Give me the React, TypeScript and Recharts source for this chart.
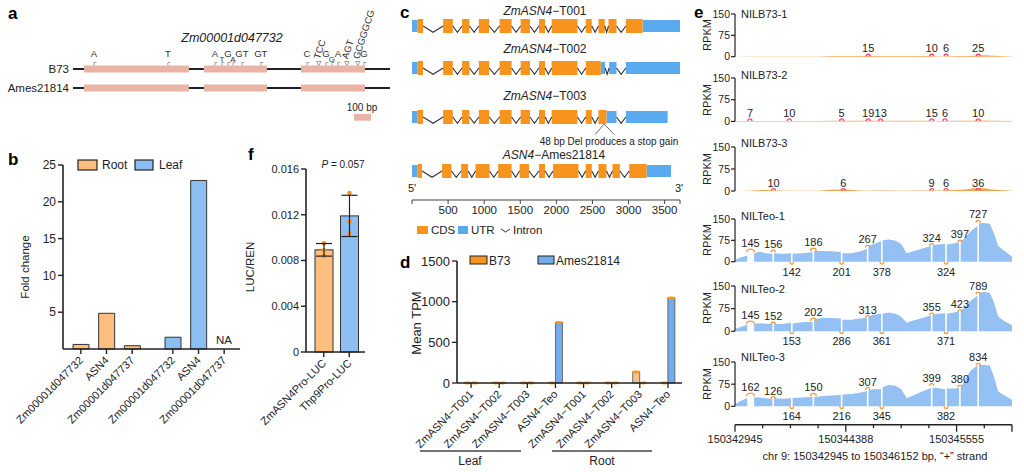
import React from "react";
import {
  BarChart,
  Bar,
  ComposedChart,
  XAxis,
  YAxis,
  Area,
  Line,
  Scatter,
  ReferenceArea,
  ReferenceLine,
  ErrorBar,
} from "recharts";

const FONT = "Arial, 'Liberation Sans', Helvetica, sans-serif";
const INK = "#222";

// ---------- panel a: gene model of Zm00001d047732 (bp)
const aRows = ["Ames21814", "B73"];
const aGeneLen = 1865;
const aExons = [[65, 682], [770, 1141], [1341, 1718]];
const aScaleBar = [1653, 1753];
const aSnpPos = [123, 558, 835, 876, 911, 941, 994, 1105, 1376, 1446, 1488, 1523, 1558, 1611, 1676, 1711];
const aSnpAllele = ["A", "T", "A", "T", "G", "A", "GT", "GT", "C", "TCC", "G", "G", "A", "AGT", "GCGGGCG", "G"];

// ---------- panel b: qPCR fold change
const bGenes = ["Zm00001d047732", "ASN4", "Zm00001d047737"];
const rootFold = [0.62, 4.85, 0.45];
const leafFold = [1.6, 22.9, null];
const bTicks = [5, 10, 15, 20, 25];

// ---------- panel f: LUC/REN
const fConstructs = ["ZmASN4Pro-LUC", "Thp9Pro-LUC"];
const fReps = [
  [0.0095, 0.0089, 0.0084],
  [0.0139, 0.0114, 0.0104],
];
const fTicks = [0, 0.004, 0.008, 0.012, 0.016];

// ---------- panel c: transcript structures (bp)
const cLen = 3713;
const cTicks = [500, 1000, 1500, 2000, 2500, 3000, 3500];
const t001Cds = [[79, 153], [431, 565], [694, 796], [926, 1069], [1213, 1380], [1505, 1634], [1759, 1843], [1935, 2292], [2407, 2491], [2583, 2671], [2722, 2833], [2963, 3194]];
const t001Utr = [[0, 79], [3194, 3713]];
const t002Cds = [[79, 153], [431, 565], [694, 796], [926, 1069], [1213, 1380], [1505, 1634], [1759, 1843], [1935, 2292], [2407, 2616]];
const t002Utr = [[0, 79], [2616, 2676], [2731, 2833], [2963, 3713]];
const t003Cds = [[79, 153], [431, 565], [694, 796], [926, 1069], [1213, 1380], [1505, 1634], [1759, 1843], [1935, 2292], [2407, 2491], [2583, 2694]];
const t003Utr = [[0, 79], [2694, 2833], [2963, 3542]];
const amesCds = [[79, 139], [417, 546], [681, 778], [880, 1074], [1194, 1380], [1491, 1620], [1759, 1843], [1954, 2306], [2407, 2491], [2583, 2694], [2778, 2880], [3009, 3250]];
const amesUtr = [[0, 79], [3250, 3588]];

// ---------- panel d: mean TPM
const dCats = ["ZmASN4−T001", "ZmASN4−T002", "ZmASN4−T003", "ASN4−Teo", "ZmASN4−T001", "ZmASN4−T002", "ZmASN4−T003", "ASN4−Teo"];
const dB73 = [0, 0, 0, 0, 0, 0, 135, 0];
const dAmes = [0, 0, 0, 745, 0, 0, 0, 1045];
const dTicks = [0, 500, 1000, 1500];

// ---------- panel e: RNA-seq coverage (x in 1/100 of the locus)
const eTicks = [0, 10, 20, 30, 40, 50, 60, 70, 80, 90, 100];
const eTickBins = [0, 40, 80];
const eTickLabels = ["150342945", "150344388", "150345555"];
const teoX = [0, 2, 4.4, 6.9, 9, 11, 13.5, 14.1, 17, 20.2, 20.8, 24, 28.0, 28.6, 32, 35, 38.2, 38.8, 42, 45, 47.6, 48.2, 50, 52.7, 53.3, 55.5, 58, 60, 62, 64, 67, 70.7, 71.3, 73, 75.9, 76.5, 79, 80.9, 81.5, 83, 85, 87.5, 88.1, 90, 92, 93.5, 95, 97, 100];
const teoGaps = [[4.4, 6.9], [13.5, 14.1], [20.2, 20.8], [28.0, 28.6], [38.2, 38.8], [47.6, 48.2], [52.7, 53.3], [70.7, 71.3], [75.9, 76.5], [80.9, 81.5], [87.5, 88.1]];
const teo1 = [6, 15, 22, 30, 35, 30, 28, 30, 28, 30, 28, 30, 33, 38, 38, 37, 34, 30, 30, 36, 45, 55, 62, 72, 75, 78, 74, 62, 30, 36, 45, 55, 56, 60, 62, 60, 64, 68, 70, 85, 105, 125, 135, 136, 133, 100, 55, 40, 18];
const teo2 = [8, 14, 22, 25, 27, 25, 24, 25, 24, 28, 26, 30, 32, 40, 45, 44, 42, 38, 38, 42, 45, 50, 55, 58, 58, 62, 58, 48, 28, 35, 42, 52, 54, 58, 60, 58, 62, 66, 68, 80, 100, 118, 128, 130, 128, 95, 50, 35, 20];
const teo3 = [8, 18, 28, 30, 30, 27, 25, 27, 26, 27, 28, 30, 32, 32, 35, 37, 38, 40, 42, 46, 52, 55, 58, 58, 65, 72, 70, 58, 28, 35, 48, 62, 64, 62, 58, 60, 60, 62, 65, 90, 120, 138, 140, 140, 138, 100, 50, 38, 22];
const b73X = [0, 5, 10, 15, 20, 25, 30, 35, 40, 45, 48, 50, 55, 60, 65, 70, 75, 80, 84, 86, 88, 90, 92, 95, 100];
const b73a = [0, 1, 1, 1, 1, 1, 1, 2, 2, 2, 3, 2, 2, 2, 2, 2, 1, 2, 2, 3, 4, 5, 4, 2, 1];
const b73b = [1, 1, 1, 1, 1, 1, 1, 2, 2, 2, 3, 2, 2, 2, 2, 2, 1, 2, 2, 2, 3, 3, 2, 2, 1];
const b73c = [0, 1, 3, 2, 1, 1, 1, 4, 5, 2, 1, 2, 2, 1, 2, 2, 2, 3, 6, 9, 10, 9, 6, 3, 1];

// junction read counts
const teoUpPos = [5.6, 13.8, 28.3, 47.9, 71, 81.2, 87.8];
const teoUpSpan = [2.9, 1.5, 2.1, 1.5, 1.5, 1.5, 1.5];
const teoDownPos = [20.5, 38.5, 53, 76.2];
const teo1Up = [145, 156, 186, 267, 324, 397, 727];
const teo1UpY = [33, 33, 37, 50, 56, 68, 138];
const teo1Down = [142, 201, 378, 324];
const teo2Up = [145, 152, 202, 313, 355, 423, 789];
const teo2UpY = [23, 23, 34, 45, 53, 64, 123];
const teo2Down = [153, 286, 361, 371];
const teo3Up = [162, 126, 150, 307, 399, 380, 834];
const teo3UpY = [34, 26, 34, 56, 70, 64, 138];
const teo3Down = [164, 216, 345, 382];
const b73aPos = [48.1, 71, 76.2, 87.8];
const b73aJ = [15, 10, 6, 25];
const b73bPos = [5.4, 19.6, 38.5, 48.1, 52.6, 71, 75.8, 87.8];
const b73bJ = [7, 10, 5, 19, 13, 15, 6, 10];
const b73cPos = [13.9, 39.1, 71, 76.2, 87.8];
const b73cJ = [10, 6, 9, 6, 36];

const C = {
  rootFill: "#FDBE80",
  leafFill: "#8DBEF2",
  orange: "#F7931E",
  cds: "#F7941D",
  utr: "#5AAAF0",
  exonA: "#E9B3A6",
  dB73: "#FAC08A",
  dAmes: "#74ABEB",
  covB73: "#F6A24E",
  covTeo: "#94C0F4",
  arcB73: "#E8467C",
  arcTeo: "#F39A3C",
};

const abs = (left: number, top: number): React.CSSProperties => ({ position: "absolute", left, top });

const RotTick = (props: any) => {
  const { x, y, payload, fs = 11 } = props;
  const ax = x + 3;
  const ay = y + 5;
  return (
    <text x={ax} y={ay} transform={`rotate(-45 ${ax} ${ay})`} textAnchor="end" fontSize={fs} fill={INK}>
      {payload.value}
    </text>
  );
};

// ---------------- panel a
const SnpMark = (p: any) => {
  const { cx, cy, payload } = p;
  const top = cy - 3.5;
  if (payload.allele.length >= 3) {
    return (
      <g>
        <path d={`M${cx - 2.2},${top - 4} L${cx + 2.2},${top - 4} L${cx},${top} Z`} fill="#fff" stroke="#777" strokeWidth={0.7} />
        <text x={cx + 1} y={top - 6} transform={`rotate(-72 ${cx + 1} ${top - 6})`} fontSize={9.5} fill="#333">
          {payload.allele}
        </text>
      </g>
    );
  }
  const ty = payload.tier ? top - 3.5 : top - 9;
  return (
    <g>
      <path d={`M${cx},${top} V${top - 3} H${cx + 2.5}`} fill="none" stroke="#777" strokeWidth={0.7} />
      <text x={cx} y={ty} textAnchor="middle" fontSize={payload.tier ? 8 : 9.5} fill="#333">
        {payload.allele}
      </text>
    </g>
  );
};

function PanelA() {
  const snp: any[] = aSnpPos.map((x, i) => ({ x, y: 1, allele: aSnpAllele[i], tier: 0 }));
  for (let i = 1; i < snp.length; i++) {
    const close = snp[i].x - snp[i - 1].x < 45 && snp[i].allele.length < 3 && snp[i - 1].allele.length < 3;
    snp[i].tier = close ? 1 - snp[i - 1].tier : 0;
  }
  const segs: number[][] = [];
  let prev = 0;
  aExons.forEach(([s, e]) => {
    segs.push([prev, s]);
    prev = e;
  });
  segs.push([prev, aGeneLen]);
  return (
    <div style={abs(0, 0)}>
      <ComposedChart width={400} height={130} data={snp} margin={{ top: 69, right: 10, bottom: 42, left: 0 }}>
        <XAxis type="number" dataKey="x" domain={[0, aGeneLen]} hide />
        <YAxis
          type="number"
          domain={[0, 1]}
          ticks={[0, 1]}
          interval={0}
          width={73}
          axisLine={false}
          tickLine={false}
          tickSize={4}
          tickMargin={0}
          tickFormatter={(v: number) => aRows[v]}
          tick={{ fontSize: 11.5, fill: INK }}
        />
        {[0, 1].flatMap((r) =>
          segs.map(([s, e], k) => (
            <ReferenceLine key={`l${r}${k}`} segment={[{ x: s, y: r }, { x: e, y: r }]} stroke={INK} strokeWidth={2} ifOverflow="visible" />
          ))
        )}
        {[0, 1].flatMap((r) =>
          aExons.map(([s, e], k) => (
            <ReferenceArea key={`e${r}${k}`} x1={s} x2={e} y1={r - 0.18} y2={r + 0.18} fill={C.exonA} fillOpacity={1} stroke="none" ifOverflow="visible" />
          ))
        )}
        <ReferenceArea x1={aScaleBar[0]} x2={aScaleBar[1]} y1={-1.72} y2={-1.36} fill={C.exonA} fillOpacity={1} stroke="none" ifOverflow="visible" />
        <Scatter dataKey="y" isAnimationActive={false} shape={SnpMark} />
      </ComposedChart>
    </div>
  );
}

// ---------------- panel b
function PanelB() {
  const rootData = bGenes.map((g, i) => ({ gene: g, v: rootFold[i] }));
  const leafData = bGenes.map((g, i) => ({ gene: g, v: leafFold[i] }));
  const xProps = {
    dataKey: "gene",
    interval: 0,
    height: 90,
    tick: <RotTick />,
    tickSize: 5,
    tickLine: { stroke: INK, strokeWidth: 1.4 },
    axisLine: { stroke: INK, strokeWidth: 1.6 },
  } as any;
  return (
    <>
      <div style={abs(0, 150)}>
        <BarChart width={152} height={289} data={rootData} margin={{ top: 15, right: 0, bottom: 0, left: 0 }}>
          <XAxis {...xProps} padding={{ left: 5, right: 7 }} />
          <YAxis
            width={63}
            domain={[0, 25]}
            ticks={bTicks}
            tick={{ fontSize: 12, fill: INK }}
            tickSize={5}
            tickLine={{ stroke: INK, strokeWidth: 1.4 }}
            axisLine={{ stroke: INK, strokeWidth: 1.6 }}
          />
          <Bar dataKey="v" fill={C.rootFill} stroke="#333" strokeWidth={1} barSize={16} isAnimationActive={false} />
        </BarChart>
      </div>
      <div style={abs(60, 150)}>
        <BarChart width={180} height={289} data={leafData} margin={{ top: 15, right: 0, bottom: 0, left: 92 }}>
          <XAxis {...xProps} padding={{ left: 8, right: 3 }} />
          <YAxis hide domain={[0, 25]} />
          <Bar dataKey="v" fill={C.leafFill} stroke="#333" strokeWidth={1} barSize={16} isAnimationActive={false} />
        </BarChart>
      </div>
    </>
  );
}

// ---------------- panel f
const FBar = (p: any) => {
  const { x, y, width, height, fill, payload } = p;
  const perUnit = height / payload.mean;
  const base = y + height;
  return (
    <g>
      <rect x={x} y={y} width={width} height={height} fill={fill} stroke="#333" strokeWidth={1} />
      {payload.reps.map((v: number, i: number) => (
        <circle key={i} cx={x + width / 2} cy={base - v * perUnit} r={2.3} fill={C.orange} />
      ))}
    </g>
  );
};

function PanelF() {
  const data = fConstructs.map((name, i) => {
    const r = fReps[i];
    const mean = r.reduce((a, b) => a + b, 0) / r.length;
    const sd = Math.sqrt(r.reduce((a, b) => a + (b - mean) ** 2, 0) / (r.length - 1));
    return { name, mean, sd, reps: r };
  });
  return (
    <div style={abs(240, 150)}>
      <BarChart width={125} height={292} data={data} margin={{ top: 19, right: 0, bottom: 0, left: 0 }}>
        <XAxis
          dataKey="name"
          interval={0}
          height={90}
          padding={{ left: 5, right: 3 }}
          tick={<RotTick />}
          tickSize={5}
          tickLine={{ stroke: INK, strokeWidth: 1.4 }}
          axisLine={{ stroke: INK, strokeWidth: 1.6 }}
        />
        <YAxis
          width={66}
          domain={[0, 0.016]}
          ticks={fTicks}
          tickFormatter={(v: number) => String(v)}
          tick={{ fontSize: 11, fill: INK }}
          tickSize={5}
          tickLine={{ stroke: INK, strokeWidth: 1.4 }}
          axisLine={{ stroke: INK, strokeWidth: 1.6 }}
        />
        <Bar dataKey="mean" barSize={18} isAnimationActive={false} shape={(p: any) => <FBar {...p} fill={p.index === 0 ? C.rootFill : C.leafFill} />}>
          <ErrorBar dataKey="sd" width={8} stroke={INK} strokeWidth={1.2} direction="y" />
        </Bar>
      </BarChart>
    </div>
  );
}

// ---------------- panel c
function CTrack({ center, cds, utr, axis, note }: any) {
  const blocks = [...cds, ...utr].sort((a: number[], b: number[]) => a[0] - b[0]);
  const intr: any[] = [];
  for (let i = 0; i < blocks.length - 1; i++) {
    const e = blocks[i][1];
    const s = blocks[i + 1][0];
    if (s - e > 5) intr.push({ x: e, y: 0 }, { x: (e + s) / 2, y: -0.45 }, { x: s, y: 0 }, { x: s + 1, y: null });
  }
  const mt = 13;
  const ph = axis ? 36 : 14;
  const mb = axis ? 0 : note ? 33 : 13;
  const xh = axis ? 24 : 0;
  return (
    <div style={abs(395, center - 7 - mt)}>
      <ComposedChart width={295} height={mt + ph + mb + xh} data={intr} margin={{ top: mt, right: 10, bottom: mb, left: 17 }}>
        <XAxis
          type="number"
          dataKey="x"
          domain={[0, cLen]}
          hide={!axis}
          ticks={[0, ...cTicks, cLen]}
          interval={0}
          tickFormatter={(v: number) => (cTicks.includes(v) ? String(v) : "")}
          tick={{ fontSize: 11.5, fill: INK }}
          tickSize={4}
          tickLine={{ stroke: "#444" }}
          axisLine={{ stroke: "#444", strokeWidth: 1.2 }}
          height={xh}
        />
        <YAxis type="number" domain={[axis ? -2.07 : -0.5, 0.5]} hide />
        <Line type="linear" dataKey="y" stroke="#333" strokeWidth={1.1} dot={false} connectNulls={false} isAnimationActive={false} />
        {utr.map(([s, e]: number[], k: number) => (
          <ReferenceArea key={`u${k}`} x1={s} x2={e} y1={-0.43} y2={0.43} fill={C.utr} fillOpacity={1} stroke="none" ifOverflow="visible" />
        ))}
        {cds.map(([s, e]: number[], k: number) => (
          <ReferenceArea key={`c${k}`} x1={s} x2={e} y1={-0.5} y2={0.5} fill={C.cds} fillOpacity={1} stroke="none" ifOverflow="visible" />
        ))}
        {note && (
          <ReferenceLine segment={[{ x: 2662, y: -0.5 }, { x: 2537, y: -1.25 }]} stroke="#555" strokeWidth={0.9} ifOverflow="visible" />
        )}
        {note && (
          <ReferenceLine segment={[{ x: 2662, y: -0.5 }, { x: 2801, y: -1.25 }]} stroke="#555" strokeWidth={0.9} ifOverflow="visible" />
        )}
      </ComposedChart>
    </div>
  );
}

function PanelC() {
  return (
    <>
      <CTrack center={26} cds={t001Cds} utr={t001Utr} />
      <CTrack center={68} cds={t002Cds} utr={t002Utr} />
      <CTrack center={117} cds={t003Cds} utr={t003Utr} note />
      <CTrack center={171} cds={amesCds} utr={amesUtr} axis />
    </>
  );
}

// ---------------- panel d
const DBar = (p: any) => {
  const { x, y, width, height, fill } = p;
  return (
    <g>
      {height > 0.5 && <rect x={x} y={y} width={width} height={height} fill={fill} stroke="#555" strokeWidth={0.8} />}
      <ellipse cx={x + width / 2} cy={y} rx={width / 2 + 0.4} ry={1.4} fill={C.orange} />
    </g>
  );
};

function PanelD() {
  const data = dCats.map((c, i) => ({ cat: c, key: `${c}${i}`, b73: dB73[i], ames: dAmes[i] }));
  return (
    <div style={abs(395, 250)}>
      <BarChart width={287} height={203} data={data} barGap={0} margin={{ top: 11, right: 0, bottom: 0, left: 0 }}>
        <XAxis
          dataKey="key"
          interval={0}
          height={70}
          tick={(p: any) => <RotTick {...p} payload={{ value: dCats[p.index] }} />}
          tickSize={5}
          tickLine={{ stroke: INK, strokeWidth: 1.3 }}
          axisLine={{ stroke: INK, strokeWidth: 1.6 }}
        />
        <YAxis
          width={62}
          domain={[0, 1500]}
          ticks={dTicks}
          tick={{ fontSize: 13, fill: INK }}
          tickSize={5}
          tickLine={{ stroke: INK, strokeWidth: 1.3 }}
          axisLine={{ stroke: INK, strokeWidth: 1.6 }}
        />
        <Bar dataKey="b73" fill={C.dB73} barSize={7} isAnimationActive={false} shape={DBar} />
        <Bar dataKey="ames" fill={C.dAmes} barSize={7} isAnimationActive={false} shape={DBar} />
      </BarChart>
    </div>
  );
}

// ---------------- panel e
const PXB = 2.77;

const ArcUp = (p: any) => {
  const { cx, cy, payload } = p;
  const w = Math.max(2, (payload.span * PXB) / 2);
  const h = Math.min(w, 3.2);
  return (
    <g>
      <path d={`M${cx - w},${cy} A${w},${h} 0 0 1 ${cx + w},${cy}`} fill="none" stroke={payload.color} strokeWidth={1.3} />
      <text x={cx} y={cy - h - 2} textAnchor="middle" fontSize={11} fill={INK}>
        {payload.label}
      </text>
    </g>
  );
};

const ArcDown = (p: any) => {
  const { cx, cy, payload } = p;
  const w = 1.8;
  return (
    <g>
      <path d={`M${cx - w},${cy} A${w},${w * 1.3} 0 0 0 ${cx + w},${cy}`} fill="none" stroke={payload.color} strokeWidth={1.3} />
      <text x={cx} y={cy + 14} textAnchor="middle" fontSize={11} fill={INK}>
        {payload.label}
      </text>
    </g>
  );
};

const GenTick = (p: any) => {
  const { x, y, payload } = p;
  const idx = eTickBins.indexOf(payload.value);
  const major = idx >= 0 || payload.value === 100;
  return (
    <g>
      <line x1={x} x2={x} y1={y} y2={y + (major ? 7 : 3.5)} stroke={INK} strokeWidth={1.3} />
      {idx >= 0 && (
        <text x={x} y={y + 18} textAnchor="middle" fontSize={11} fill={INK}>
          {eTickLabels[idx]}
        </text>
      )}
    </g>
  );
};

function buildTeo(vals: number[]) {
  const out: any[] = [];
  teoX.forEach((x, i) => {
    out.push({ x, y: vals[i] });
    const g = teoGaps.find((gp) => gp[0] === x);
    if (g) out.push({ x: g[0] + 0.02, y: 0 }, { x: g[1] - 0.02, y: 0 });
  });
  return out;
}

function ETrack({ top, bottom, cov, fill, up, down, axis }: any) {
  const mt = 16;
  const h = bottom - top;
  const below = axis ? 18.3 : 0;
  const yAxisCommon = {
    type: "number",
    ticks: [0, 75, 150],
    width: 45,
    tick: { fontSize: 10.5, fill: INK },
    tickSize: 4,
    tickMargin: 1,
    tickLine: { stroke: INK, strokeWidth: 1.2 },
  } as any;
  return (
    <div style={abs(690, top - mt)}>
      <ComposedChart
        width={332}
        height={mt + h + below + (axis ? 26 : 18)}
        data={cov}
        margin={{ top: mt, right: 10, bottom: axis ? 0 : 18, left: 0 }}
      >
        <XAxis
          type="number"
          dataKey="x"
          domain={[0, 100]}
          hide={!axis}
          ticks={eTicks}
          interval={0}
          tick={<GenTick />}
          tickLine={false}
          tickSize={0}
          tickMargin={0}
          axisLine={{ stroke: INK, strokeWidth: 1.4 }}
          height={26}
        />
        {axis ? (
          <YAxis {...yAxisCommon} domain={[-62, 150]} axisLine={false} />
        ) : (
          <YAxis {...yAxisCommon} domain={[0, 150]} axisLine={{ stroke: INK, strokeWidth: 1.2 }} />
        )}
        {axis && <ReferenceLine segment={[{ x: 0, y: 0 }, { x: 0, y: 150 }]} stroke={INK} strokeWidth={1.2} ifOverflow="visible" />}
        <Area type="linear" dataKey="y" stroke="none" fill={fill} fillOpacity={1} isAnimationActive={false} />
        <Scatter data={up} dataKey="y" isAnimationActive={false} shape={ArcUp} />
        {down && <Scatter data={down} dataKey="y" isAnimationActive={false} shape={ArcDown} />}
      </ComposedChart>
    </div>
  );
}

function PanelE() {
  const b73 = (vals: number[]) => b73X.map((x, i) => ({ x, y: vals[i] }));
  const b73Arcs = (pos: number[], lab: number[]) => pos.map((x, i) => ({ x, y: 1.5, label: lab[i], span: 1.4, color: C.arcB73 }));
  const teoUp = (lab: number[], ys: number[]) => teoUpPos.map((x, i) => ({ x, y: ys[i], label: lab[i], span: teoUpSpan[i], color: C.arcTeo }));
  const teoDown = (lab: number[]) => teoDownPos.map((x, i) => ({ x, y: 0, label: lab[i], color: C.arcTeo }));
  return (
    <>
      <ETrack top={14} bottom={56.7} cov={b73(b73a)} fill={C.covB73} up={b73Arcs(b73aPos, b73aJ)} />
      <ETrack top={78.3} bottom={121.7} cov={b73(b73b)} fill={C.covB73} up={b73Arcs(b73bPos, b73bJ)} />
      <ETrack top={146.7} bottom={190.7} cov={b73(b73c)} fill={C.covB73} up={b73Arcs(b73cPos, b73cJ)} />
      <ETrack top={219} bottom={261.7} cov={buildTeo(teo1)} fill={C.covTeo} up={teoUp(teo1Up, teo1UpY)} down={teoDown(teo1Down)} />
      <ETrack top={285.7} bottom={331} cov={buildTeo(teo2)} fill={C.covTeo} up={teoUp(teo2Up, teo2UpY)} down={teoDown(teo2Down)} />
      <ETrack top={362.3} bottom={406.7} cov={buildTeo(teo3)} fill={C.covTeo} up={teoUp(teo3Up, teo3UpY)} down={teoDown(teo3Down)} axis />
    </>
  );
}

// ---------------- text overlay (panel letters, titles, legends)
const VLabel = ({ x, y, text, size = 11 }: any) => (
  <text x={x} y={y} transform={`rotate(-90 ${x} ${y})`} textAnchor="middle" fontSize={size} fill={INK}>
    {text}
  </text>
);

function Overlay() {
  const letter = (t: string, x: number, y: number) => (
    <text x={x} y={y} fontSize={17} fontWeight="bold" fill="#000">
      {t}
    </text>
  );
  const title = (it: string, rest: string, x: number, y: number) => (
    <text x={x} y={y} textAnchor="middle" fontSize={12} fill={INK}>
      <tspan fontStyle="italic">{it}</tspan>
      {rest}
    </text>
  );
  const eNames = [
    ["NILB73-1", 18, 35],
    ["NILB73-2", 79, 100],
    ["NILB73-3", 147, 169],
    ["NILTeo-1", 220, 240],
    ["NILTeo-2", 293, 308],
    ["NILTeo-3", 361, 384],
  ] as any[];
  return (
    <svg width={1024} height={472} style={{ position: "absolute", left: 0, top: 0, pointerEvents: "none", fontFamily: FONT }}>
      {letter("a", 8, 19)}
      <text x={232} y={42} textAnchor="middle" fontSize={12.5} fontStyle="italic" fill={INK}>
        Zm00001d047732
      </text>
      <text x={362} y={111} textAnchor="middle" fontSize={10} fill={INK}>
        100 bp
      </text>

      {letter("b", 8, 165)}
      <rect x={78} y={160} width={19} height={10} fill={C.rootFill} stroke={INK} strokeWidth={1.2} />
      <text x={102} y={169} fontSize={12} fill={INK}>Root</text>
      <rect x={135} y={160} width={18} height={10} fill={C.leafFill} stroke={INK} strokeWidth={1.2} />
      <text x={159} y={169} fontSize={12} fill={INK}>Leaf</text>
      <VLabel x={29} y={267} text="Fold change" size={11.5} />
      <text x={224} y={344} textAnchor="middle" fontSize={11.5} fill={INK}>NA</text>

      {letter("f", 248, 160)}
      <text x={343} y={168} textAnchor="middle" fontSize={10} fill={INK}>
        <tspan fontStyle="italic">P</tspan> = 0.057
      </text>
      <VLabel x={254} y={267} text="LUC/REN" size={11.5} />

      {letter("c", 400, 18)}
      {title("ZmASN4", "−T001", 545, 15)}
      {title("ZmASN4", "−T002", 545, 53)}
      {title("ZmASN4", "−T003", 545, 100)}
      {title("ASN4", "−Ames21814", 554, 159)}
      <text x={609} y={145} textAnchor="middle" fontSize={10} fill={INK}>48 bp Del produces a stop gain</text>
      <text x={412} y={192} textAnchor="middle" fontSize={11} fill={INK}>5'</text>
      <text x={679} y={192} textAnchor="middle" fontSize={11} fill={INK}>3'</text>
      <rect x={417} y={226} width={11} height={8} fill={C.cds} />
      <text x={431} y={234} fontSize={11.5} fill={INK}>CDS</text>
      <rect x={458} y={226} width={10} height={8} fill={C.utr} />
      <text x={471} y={234} fontSize={11.5} fill={INK}>UTR</text>
      <path d="M501,229 L505.5,232 L510,229" fill="none" stroke="#333" strokeWidth={1} />
      <text x={513} y={234} fontSize={11.5} fill={INK}>Intron</text>

      {letter("d", 400, 268)}
      <rect x={470} y={256} width={17} height={8} fill={C.orange} stroke={INK} strokeWidth={1} />
      <text x={489} y={264.5} fontSize={12} fill={INK}>B73</text>
      <rect x={538} y={256} width={16} height={8} fill={C.dAmes} stroke={INK} strokeWidth={1} />
      <text x={556} y={264.5} fontSize={12} fill={INK}>Ames21814</text>
      <VLabel x={421} y={323} text="Mean TPM" size={13} />
      <line x1={420} y1={451} x2={521} y2={451} stroke="#444" strokeWidth={1.6} />
      <line x1={552} y1={451} x2={652} y2={451} stroke="#444" strokeWidth={1.6} />
      <text x={470} y={465} textAnchor="middle" fontSize={12} fill={INK}>Leaf</text>
      <text x={602} y={465} textAnchor="middle" fontSize={12} fill={INK}>Root</text>

      {letter("e", 694, 18)}
      {eNames.map(([n, y, c]) => (
        <g key={n}>
          <text x={741} y={y} fontSize={11} fill={INK}>{n}</text>
          <VLabel x={711} y={c} text="RPKM" size={11} />
        </g>
      ))}
      <text x={875} y={460} textAnchor="middle" fontSize={11} fill={INK}>
        chr 9: 150342945 to 150346152 bp, “+” strand
      </text>
    </svg>
  );
}

export default function App() {
  return (
    <div
      style={{
        position: "absolute",
        left: 0,
        top: 0,
        width: 1024,
        height: 472,
        background: "#fff",
        fontFamily: FONT,
        overflow: "hidden",
      }}
    >
      <PanelA />
      <PanelB />
      <PanelF />
      <PanelC />
      <PanelD />
      <PanelE />
      <Overlay />
    </div>
  );
}
